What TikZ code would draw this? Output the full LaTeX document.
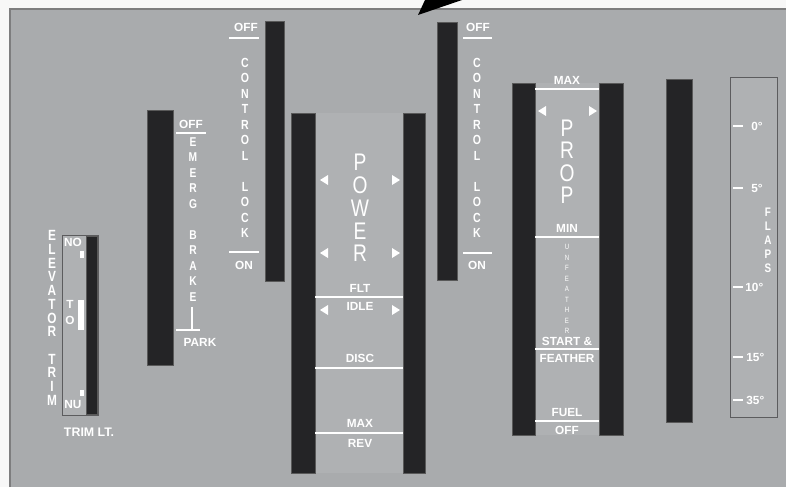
\documentclass[tikz,border=0pt]{standalone}
\usepackage{fontspec}
\setmainfont{Liberation Sans}
\newfontfamily\panelnarrow[FakeStretch=0.8]{Liberation Sans}
\usepackage{xcolor}
\definecolor{panelgrey}{RGB}{169,171,173}
\definecolor{plategrey}{RGB}{175,177,179}
\definecolor{leverblack}{RGB}{36,36,38}
\definecolor{edgegrey}{RGB}{92,92,94}
\usepackage{tikz}

\begin{document}
\begin{tikzpicture}[
  x=0.5pt, y=-0.5pt,
  lever/.style={fill=leverblack, draw=black!65, line width=0.4pt},
  gate/.style={draw=white, line width=1.3pt},
  tick/.style={draw=white, line width=0.8pt},
  marker/.style={fill=white},
  lbl/.style={text=white, inner sep=0pt, font=\bfseries\fontsize{5.9}{7}\selectfont},
  vtxt/.style={text=white, inner sep=0pt, align=center},
  bigtxt/.style={vtxt, font=\panelnarrow\fontsize{12}{11.4}\selectfont},
  degree/.style={lbl, anchor=west}
]
  % panel and frame
  \useasboundingbox (0,0) rectangle (786,487);
  \fill[white!94!gray] (0,0) rectangle (786,487);
  \fill[panelgrey] (10,9) rectangle (786,487);
  \draw[edgegrey!80, line width=0.6pt] (10,487) -- (10,9) -- (786,9);
  \fill[black] (418,15) -- (425,0) -- (462,0) -- cycle;

  % lighter plates
  \fill[plategrey] (315,113) rectangle (403,473);
  \fill[plategrey] (535,83) rectangle (599,435);
  \filldraw[fill=plategrey, draw=edgegrey, line width=0.5pt] (62,235) rectangle (98,415);
  \filldraw[fill=plategrey, draw=edgegrey, line width=0.5pt] (730,77) rectangle (777,417);

  % levers
  \filldraw[lever] (86,236) rectangle (97,414);
  \filldraw[lever] (147,110) rectangle (173,365);
  \filldraw[lever] (265,21) rectangle (284,281);
  \filldraw[lever] (291,113) rectangle (315,473);
  \filldraw[lever] (403,113) rectangle (425,473);
  \filldraw[lever] (437,22) rectangle (457,280);
  \filldraw[lever] (512,83) rectangle (535,435);
  \filldraw[lever] (599,83) rectangle (623,435);
  \filldraw[lever] (666,79) rectangle (692,422);

  % elevator trim
  \node[vtxt, font=\panelnarrow\bfseries\fontsize{7.4}{6.85}\selectfont] (elevtrim) at (52,318)
    {E\\L\\E\\V\\A\\T\\O\\R\\[6.85pt]T\\R\\I\\M};
  \fill[marker] (80,251) rectangle (84,258);
  \fill[marker] (78,300) rectangle (84,330);
  \fill[marker] (80,390) rectangle (84,396);
  \node[lbl] (trimno) at (73,242) {NO};
  \node[lbl] (trimt) at (70,304) {T};
  \node[lbl] (trimo) at (70,320) {O};
  \node[lbl] (trimnu) at (73,404) {NU};
  \node[lbl, font=\bfseries\fontsize{6.2}{7}\selectfont] (trimlt) at (89,432) {TRIM LT.};

  % emergency brake
  \draw[gate] (176,133) -- (206,133);
  \draw[gate] (176,330) -- (200,330);
  \draw[white, line width=1pt] (192,307) -- (192,330);
  \node[lbl] (brakeoff) at (191,124) {OFF};
  \node[lbl] (brakepark) at (200,342) {PARK};
  \node[vtxt, font=\panelnarrow\bfseries\fontsize{6.4}{7.75}\selectfont] (emergbrake) at (193,219.5)
    {E\\M\\E\\R\\G\\[7.75pt]B\\R\\A\\K\\E};

  % control locks
  \draw[gate] (229,38) -- (259,38);
  \draw[gate] (229,252) -- (259,252);
  \node[lbl] (lockloff) at (246,27) {OFF};
  \node[lbl] (locklon) at (244,265) {ON};
  \node[vtxt, font=\panelnarrow\bfseries\fontsize{6.6}{7.75}\selectfont] (lockl) at (245,148)
    {C\\O\\N\\T\\R\\O\\L\\[7.75pt]L\\O\\C\\K};
  \draw[gate] (463,38) -- (492,38);
  \draw[gate] (463,253) -- (492,253);
  \node[lbl] (lockroff) at (478,27) {OFF};
  \node[lbl] (lockron) at (477,265) {ON};
  \node[vtxt, font=\panelnarrow\bfseries\fontsize{6.6}{7.75}\selectfont] (lockr) at (477,148)
    {C\\O\\N\\T\\R\\O\\L\\[7.75pt]L\\O\\C\\K};

  % power lever
  \node[bigtxt] (power) at (360,208) {P\\O\\W\\E\\R};
  \fill[marker] (320,180) -- ++(8,-5) -- ++(0,10) -- cycle;
  \fill[marker] (320,253) -- ++(8,-5) -- ++(0,10) -- cycle;
  \fill[marker] (320,310) -- ++(8,-5) -- ++(0,10) -- cycle;
  \fill[marker] (400,180) -- ++(-8,-5) -- ++(0,10) -- cycle;
  \fill[marker] (400,253) -- ++(-8,-5) -- ++(0,10) -- cycle;
  \fill[marker] (400,310) -- ++(-8,-5) -- ++(0,10) -- cycle;
  \draw[gate] (315,297) -- (403,297);
  \draw[gate] (315,368) -- (403,368);
  \draw[gate] (315,433) -- (403,433);
  \node[lbl] (flt) at (360,288) {FLT};
  \node[lbl] (idle) at (360,306) {IDLE};
  \node[lbl] (disc) at (360,358) {DISC};
  \node[lbl] (maxrev) at (360,423) {MAX};
  \node[lbl] (rev) at (360,443) {REV};

  % prop lever
  \draw[gate] (535,89) -- (599,89);
  \draw[gate] (535,237) -- (599,237);
  \draw[gate] (535,349) -- (599,349);
  \draw[gate] (535,421) -- (599,421);
  \fill[marker] (538,111) -- ++(8,-5) -- ++(0,10) -- cycle;
  \fill[marker] (597,111) -- ++(-8,-5) -- ++(0,10) -- cycle;
  \node[bigtxt, font=\panelnarrow\fontsize{12}{11.25}\selectfont] (prop) at (567,161.5) {P\\R\\O\\P};
  \node[lbl] (propmax) at (567,80) {MAX};
  \node[lbl] (propmin) at (567,228) {MIN};
  \node[vtxt, font=\panelnarrow\fontsize{3.8}{5.25}\selectfont] (unfeather) at (567,289)
    {U\\N\\F\\E\\A\\T\\H\\E\\R};
  \node[lbl] (start) at (567,341) {START \&};
  \node[lbl] (feather) at (567,358) {FEATHER};
  \node[lbl] (fuel) at (567,412) {FUEL};
  \node[lbl] (fueloff) at (567,430) {OFF};

  % flaps scale
  \draw[tick] (733,126) -- (743,126);
  \draw[tick] (733,188) -- (743,188);
  \draw[tick] (733,287) -- (743,287);
  \draw[tick] (733,357) -- (743,357);
  \draw[tick] (733,400) -- (743,400);
  \node[degree] (flap0) at (751,126) {0°};
  \node[degree] (flap5) at (751,188) {5°};
  \node[degree] (flap10) at (745,287) {10°};
  \node[degree] (flap15) at (746,357) {15°};
  \node[degree] (flap35) at (746,400) {35°};
  \node[vtxt, font=\panelnarrow\bfseries\fontsize{6.2}{7}\selectfont] (flaps) at (768,240)
    {F\\L\\A\\P\\S};
\end{tikzpicture}
\end{document}
